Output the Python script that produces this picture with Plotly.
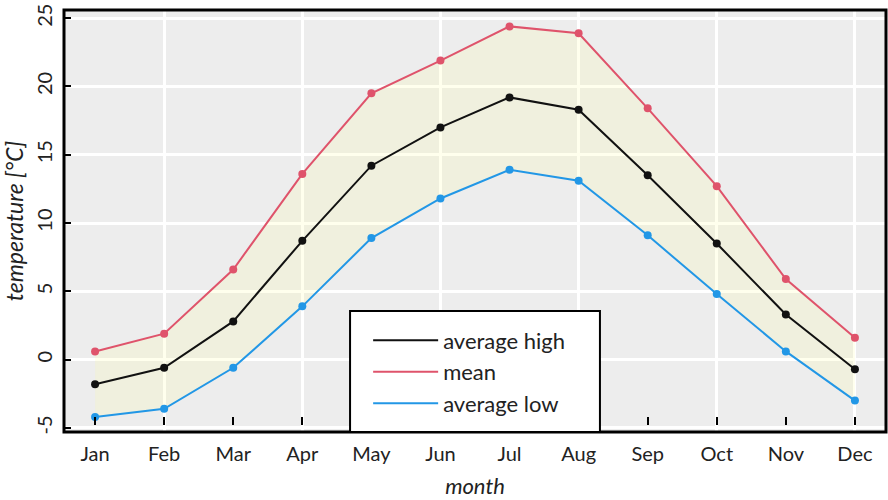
import plotly.graph_objects as go

months = ["Jan", "Feb", "Mar", "Apr", "May", "Jun", "Jul", "Aug", "Sep", "Oct", "Nov", "Dec"]
month_num = list(range(1, 13))
avg_high = [-1.8, -0.6, 2.8, 8.7, 14.2, 17.0, 19.2, 18.3, 13.5, 8.5, 3.3, -0.7]
mean = [0.6, 1.9, 6.6, 13.6, 19.5, 21.9, 24.4, 23.9, 18.4, 12.7, 5.9, 1.6]
avg_low = [-4.2, -3.6, -0.6, 3.9, 8.9, 11.8, 13.9, 13.1, 9.1, 4.8, 0.6, -3.0]
y_ticks = [-5, 0, 5, 10, 15, 20, 25]
y_ticktext = ["-5", "0", "5", "10", "15", "20", "25"]
grid_x = [2, 4, 6, 8, 10, 12]

C_BLACK = "#111111"
C_RED = "#DF536B"
C_BLUE = "#2297E6"
FONT = "Lato"

fig = go.Figure()
# band between low and top series
fig.add_trace(go.Scatter(x=month_num, y=avg_low, mode="lines", line=dict(width=0),
                         showlegend=False, hoverinfo="skip"))
fig.add_trace(go.Scatter(x=month_num, y=mean, mode="lines", line=dict(width=0),
                         fill="tonexty", fillcolor="rgba(255,255,147,0.17)",
                         showlegend=False, hoverinfo="skip"))

for name, vals, col in [("average high", avg_high, C_BLACK), ("mean", mean, C_RED),
                        ("average low", avg_low, C_BLUE)]:
    fig.add_trace(go.Scatter(x=month_num, y=vals, mode="lines", name=name,
                             line=dict(color=col, width=2)))
for vals, col in [(avg_high, C_BLACK), (mean, C_RED), (avg_low, C_BLUE)]:
    fig.add_trace(go.Scatter(x=month_num, y=vals, mode="markers", showlegend=False,
                             marker=dict(color=col, size=8)))

# empty trace on the label axis so it is drawn
fig.add_trace(go.Scatter(x=[None], y=[None], xaxis="x2", showlegend=False, hoverinfo="skip"))

XR = [0.55, 12.45]
YR = [-5.3, 25.6]

fig.update_layout(
    width=888, height=500,
    margin=dict(l=64, r=2, t=10, b=68, autoexpand=False),
    paper_bgcolor="white", plot_bgcolor="#EDEDED",
    font=dict(family=FONT, size=20, color="#222222"),
    xaxis=dict(range=XR, tickvals=grid_x, showticklabels=False, ticks="",
               showgrid=True, gridcolor="white", gridwidth=2.5, zeroline=False,
               showline=False, automargin=False),
    xaxis2=dict(range=XR, overlaying="x", anchor="free", position=0.0166, side="bottom",
                tickvals=month_num, ticktext=months, ticks="inside", ticklen=8,
                tickwidth=2, tickcolor="black", showgrid=False, zeroline=False,
                showline=False, ticklabelstandoff=15, tickfont=dict(size=20),
                automargin=False,
                title=dict(text="<i>month</i>", font=dict(size=22), standoff=14)),
    yaxis=dict(range=YR, tickvals=y_ticks, ticktext=y_ticktext, ticks="inside", ticklen=7,
               tickwidth=2, tickcolor="black", tickangle=-90, showgrid=True,
               gridcolor="white", gridwidth=2.5, zeroline=False, showline=False,
               ticklabelstandoff=7, automargin=False,
               title=dict(text="<i>temperature [°C]</i>", font=dict(size=23), standoff=6)),
    legend=dict(x=0.37, y=0.267, xanchor="left", yanchor="top", bgcolor="rgba(0,0,0,0)",
                borderwidth=0, itemwidth=65, font=dict(size=22), tracegroupgap=0,
                traceorder="normal"),
    shapes=[
        dict(type="rect", xref="paper", yref="paper", x0=0, x1=1, y0=0, y1=1,
             line=dict(color="black", width=3), layer="above"),
        dict(type="rect", xref="paper", yref="paper", x0=0.348, x1=0.652, y0=0, y1=0.287,
             fillcolor="white", line=dict(color="black", width=2), layer="above"),
    ],
)

fig.write_html("out.html", post_script="document.body.style.margin='0';",
               config={"displayModeBar": False})
